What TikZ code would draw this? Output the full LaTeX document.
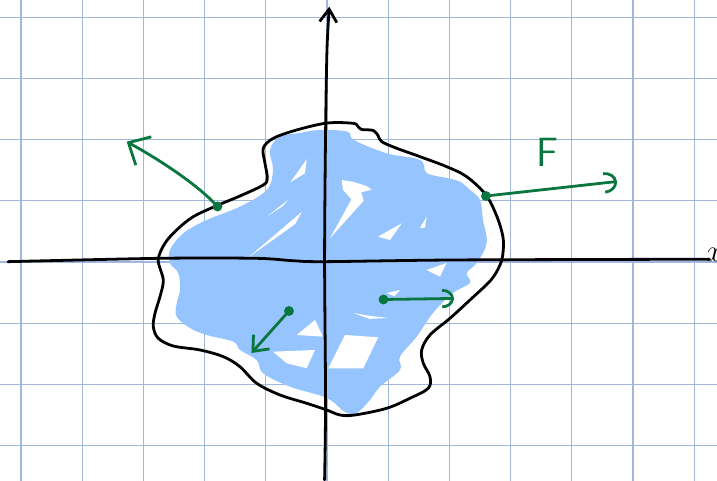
\documentclass[tikz,border=0pt]{standalone}
\usetikzlibrary{arrows.meta}
\definecolor{gridblue}{RGB}{160,184,222}
\definecolor{fillblue}{RGB}{150,196,254}
\definecolor{penGreen}{RGB}{8,118,62}
\tikzset{
  gridline/.style={gridblue,line width=.6pt},
  pen/.style={line width=1.3pt,line cap=round,line join=round},
  fieldarrow/.style={pen,penGreen},
  dot/.style={circle,fill=penGreen,inner sep=0pt,minimum size=4.6pt},
}
\begin{document}
\begin{tikzpicture}
  \useasboundingbox (-5.343,-3.578) rectangle (6.373,4.281);
  \draw[gridline] (-5.343,-3.578) grid (6.373,4.281);
  % shaded region
  \fill[fillblue] plot[smooth cycle,tension=.6] coordinates {
    (-0.114,2.157) (0.335,2.129) (0.441,1.993) (0.975,1.776) (1.520,1.667)
    (1.629,1.454) (1.956,1.373) (2.173,1.312) (2.337,1.176) (2.500,1.013)
    (2.549,0.686) (2.609,0.310) (2.446,-0.016) (2.283,-0.180) (2.337,-0.343)
    (2.059,-0.507) (1.732,-0.833) (1.466,-1.221) (1.193,-1.547) (1.193,-1.765)
    (0.866,-2.038) (0.703,-2.255) (0.485,-2.467) (0.294,-2.451) (-0.005,-2.222)
    (-0.605,-2.038) (-1.041,-1.819) (-1.149,-1.601) (-1.422,-1.438) (-1.531,-1.302)
    (-1.966,-1.193) (-2.239,-1.078) (-2.456,-0.894) (-2.456,-0.675) (-2.402,-0.458)
    (-2.430,-0.180) (-2.565,-0.021) (-2.565,0.196) (-2.348,0.469) (-1.966,0.686)
    (-1.422,0.904) (-0.985,1.176) (-0.882,1.503) (-0.931,1.830) (-0.768,2.047)
    (-0.441,2.108)};
  % gaps in the shading
  \fill[white] (0.294,-1.193) -- (0.838,-1.230) -- (0.593,-1.737) -- (0.021,-1.737) -- cycle;
  \fill[white] (-0.882,-1.466) -- (-0.196,-1.438) -- (-0.332,-1.737) -- (-0.658,-1.655) -- cycle;
  \fill[white] (-0.495,-1.193) -- (-0.196,-0.948) -- (-0.065,-1.220) -- cycle;
  \fill[white] (-0.60,1.30) -- (-0.33,1.68) -- (-0.36,1.45) -- cycle;
  \fill[white] (-0.985,0.740) -- (-0.637,1.013) -- (-0.719,0.915) -- cycle;
  \fill[white] (-1.29,0.07) -- (-0.41,0.82) -- (-0.52,0.62) -- cycle;
  \fill[white] (0.26,1.18) -- (0.24,1.34) -- (0.43,1.31) -- (0.65,1.24) -- (0.73,1.18)
       -- (0.56,1.14) -- (0.60,1.00) -- (0.05,0.39) -- (0.40,1.02) -- cycle;
  \fill[white] (0.833,0.413) -- (1.221,0.632) -- (1.030,0.359) -- cycle;
  \fill[white] (1.52,0.556) -- (1.63,0.74) -- (1.60,0.56) -- cycle;
  \fill[white] (0.425,-0.833) -- (0.70,-0.93) -- (1.0,-0.915) -- (0.70,-0.88) -- cycle;
  \fill[white] (1.629,-0.131) -- (1.956,-0.016) -- (1.846,-0.240) -- cycle;
  \fill[white] (0.975,-0.507) -- (1.193,-0.458) -- (1.10,-0.56) -- cycle;
  % boundary
  \draw[pen] plot[smooth cycle,tension=.55] coordinates {
    (0,2.27) (0.425,2.266) (0.507,2.214) (0.567,2.165) (0.757,2.149)
    (0.838,2.059) (0.894,1.966) (1.139,1.858) (1.520,1.721) (1.956,1.557)
    (2.283,1.394) (2.598,1.095) (2.778,0.740) (2.876,0.408) (2.876,0.147)
    (2.827,-0.049) (2.680,-0.294) (2.337,-0.621) (2.010,-0.920) (1.683,-1.193)
    (1.547,-1.438) (1.574,-1.655) (1.683,-1.874) (1.655,-2.064) (1.356,-2.227)
    (0.975,-2.391) (0.458,-2.500) (0.212,-2.500) (-0.005,-2.418) (-0.332,-2.309)
    (-0.768,-2.173) (-1.149,-1.982) (-1.422,-1.711) (-1.694,-1.547) (-2.075,-1.438)
    (-2.511,-1.373) (-2.757,-1.247) (-2.838,-1.057) (-2.810,-0.838) (-2.729,-0.567)
    (-2.675,-0.294) (-2.757,0.033) (-2.647,0.306) (-2.456,0.523) (-2.185,0.740)
    (-1.776,0.931) (-1.422,1.078) (-1.041,1.258) (-0.975,1.368) (-1.013,1.613)
    (-1.041,1.858) (-0.877,2.021) (-0.495,2.157)};
  % axes
  \draw[pen] plot[smooth] coordinates {(-5.212,0.005) (-2.729,0.060) (-1.160,0.060)
       (-0.562,0.021) (-0.039,0.005) (2.124,0.033) (6.25,0.045)};
  \draw[pen,-{Straight Barb[length=6pt,width=8pt]}] plot[smooth] coordinates {(-0.039,-3.562)
       (-0.023,-2.255) (-0.039,0.033) (-0.023,2.108) (0,3.464) (0.038,4.172)};
  \node[anchor=west,inner sep=0pt,font=\fontsize{15}{15}\selectfont] (xlab) at (6.19,0.114) {$x$};
  % field vectors
  \node[dot] (P1) at (-1.789,0.907) {};
  \node[dot] (P2) at (2.598,1.078) {};
  \node[dot] (P3) at (0.923,-0.613) {};
  \node[dot] (P4) at (-0.621,-0.801) {};
  \coordinate (Q1) at (-3.273,1.966);
  \coordinate (Q2) at (4.739,1.315);
  \coordinate (Q3) at (2.075,-0.596);
  \coordinate (Q4) at (-1.234,-1.487);
  \draw[fieldarrow,-{Straight Barb[length=8pt,width=15pt]}] (P1.center)
       .. controls (-2.1,1.25) and (-2.7,1.65) .. (Q1);
  \draw[fieldarrow,-{Arc Barb[length=6pt,width=10pt]}] (P2.center) -- (Q2);
  \draw[fieldarrow,-{Arc Barb[length=5.5pt,width=9pt]}] (P3.center) -- (Q3);
  \draw[fieldarrow,-{Straight Barb[length=6pt,width=10pt]}] (P4.center) -- (Q4);
  \node[text=penGreen,font=\sffamily\fontsize{19}{19}\selectfont] (F) at (3.603,1.789) {F};
\end{tikzpicture}
\end{document}
